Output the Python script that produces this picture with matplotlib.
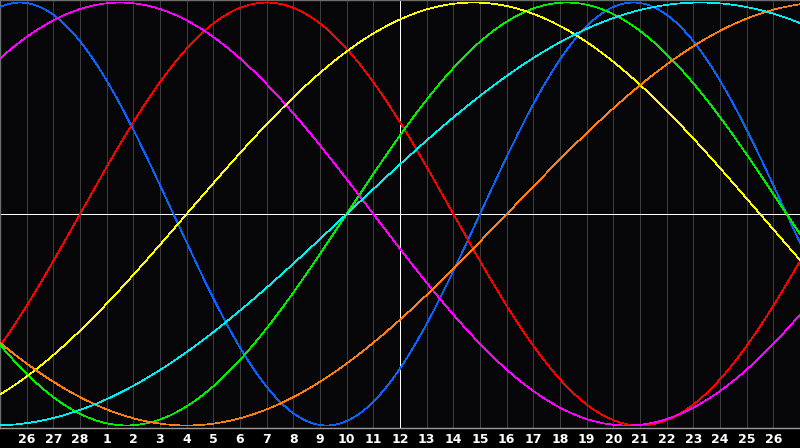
import matplotlib

matplotlib.use("Agg")
import matplotlib.pyplot as plt
import numpy as np

# Biorhythm cycles: period in days and line colour
cycle_names = ["physical", "emotional", "intellectual", "intuitive",
               "aesthetic", "awareness", "spiritual"]
cycle_periods = [23, 28, 33, 38, 43, 48, 53]
cycle_colors = ["#0a64ff", "#ff0000", "#00f000", "#ff00ff",
                "#ffff00", "#ff7f10", "#00f0f0"]

# days lived at the left edge of the chart
age_days = 31469

# day-of-month labels under the grid lines (Feb 26 .. Mar 26)
day_labels = ["26", "27", "28"] + [str(i) for i in range(1, 27)]
today_index = 15  # Mar 12, centre line
n_days = 30

fig = plt.figure(figsize=(8, 4.48), dpi=100, facecolor="#000000")
ax = fig.add_axes([0, 20 / 448, 1, 428 / 448])
ax.set_facecolor("#060609")

# vertical day grid
for k in range(1, n_days):
    if k == today_index:
        continue
    ax.axvline(k, color="#3c3c3e", lw=0.5, antialiased=False, zorder=1)

t = np.linspace(0, n_days, 1600)
for name, period, color in zip(cycle_names, cycle_periods, cycle_colors):
    y = np.sin(2 * np.pi * (age_days + t) / period)
    ax.plot(t, y, color=color, lw=0.5, antialiased=False, zorder=3, label=name)

# centre cross
ax.axvline(today_index, color="#ffffff", lw=0.6, antialiased=False, zorder=2)
ax.axhline(0, color="#ffffff", lw=0.6, antialiased=False, zorder=2)

ax.set_xlim(0, n_days)
ax.set_ylim(-1.012, 1.012)
ax.set_yticks([])
ax.set_xticks(range(1, n_days))
ax.set_xticklabels(day_labels, color="white", fontsize=9, fontweight="bold",
                   family="DejaVu Sans")
ax.tick_params(axis="x", length=0, pad=3.5)

for side in ("left", "top"):
    ax.spines[side].set_color("#6c6c6c")
    ax.spines[side].set_linewidth(1.0)
ax.spines["bottom"].set_color("#9a9a9a")
ax.spines["bottom"].set_linewidth(1.0)
ax.spines["right"].set_visible(False)

fig.savefig("out.png", dpi=100, facecolor=fig.get_facecolor())
